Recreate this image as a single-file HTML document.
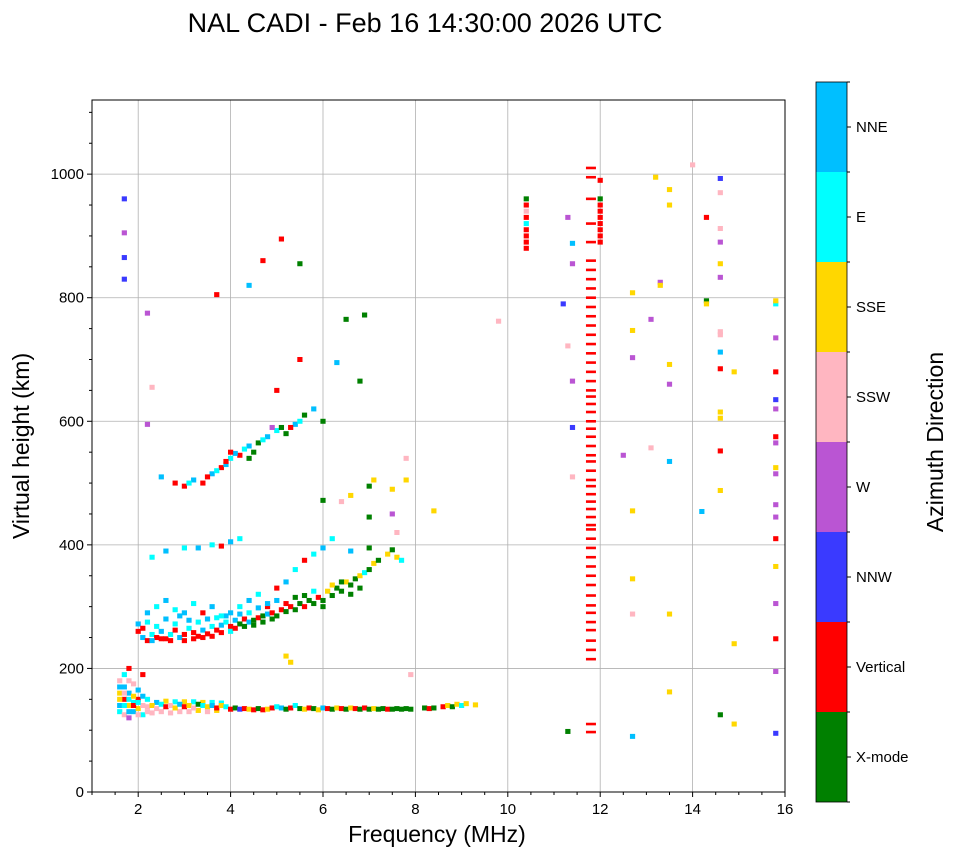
<!DOCTYPE html>
<html><head><meta charset="utf-8">
<style>
body{margin:0;background:#fff;font-family:"Liberation Sans","DejaVu Sans",sans-serif;}
svg text{font-family:"Liberation Sans","DejaVu Sans",sans-serif;}
</style></head>
<body>
<svg id="chart" width="958" height="857" viewBox="0 0 958 857" xmlns="http://www.w3.org/2000/svg">
<text x="425" y="32" font-size="27" text-anchor="middle">NAL CADI - Feb 16 14:30:00 2026 UTC</text>
<g id="grid"></g>
<g id="marks"></g>
<rect x="92" y="100" width="693" height="692" fill="none" stroke="#000" stroke-width="1"/>
<g id="axes"></g>
<text x="437" y="842" font-size="23" text-anchor="middle">Frequency (MHz)</text>
<text transform="translate(29,446) rotate(-90)" font-size="23" text-anchor="middle">Virtual height (km)</text>
<g id="cbar"></g>
<text transform="translate(943,442) rotate(-90)" font-size="23" text-anchor="middle">Azimuth Direction</text>
</svg>
<script>
const xTicks=[2,4,6,8,10,12,14,16];
const yTicks=[0,200,400,600,800,1000];
const directions=["X-mode","Vertical","NNW","W","SSW","SSE","E","NNE"];
const dirColors=["#008000","#ff0000","#3a3aff","#ba55d3","#ffb6c1","#ffd700","#00ffff","#00bfff"];
// [freq MHz, height km, direction index]
const echoes=[
[1.6,140,7],[1.6,160,5],[1.6,180,4],[1.6,130,6],[1.7,150,1],[1.7,170,7],[1.7,125,4],[1.7,190,6],[1.8,140,5],[1.8,160,7],[1.8,200,1],[1.8,120,3],[1.9,145,6],[1.9,175,4],[1.9,130,7],[2.0,150,1],[2.0,135,5],[2.0,165,7],[2.1,140,4],[2.1,190,1],[2.1,125,6],
[1.6,150,5],[1.6,170,7],[1.7,140,6],[1.7,160,4],[1.8,130,7],[1.8,150,6],[1.8,180,4],[1.9,155,5],[1.9,140,1],[2.0,125,4],[2.0,145,6],[2.1,155,7],[2.2,130,4],[2.2,150,6],[2.3,128,4],[2.4,145,7],[2.5,130,4],[2.6,147,5],[2.7,128,4],[2.8,146,6],[2.9,130,4],[3.0,146,5],[3.1,130,4],[3.2,146,6],[3.3,132,5],[3.4,145,5],[3.5,130,4],[3.6,145,6],[3.7,132,5],[3.8,144,6],
[2.2,138,4],[2.3,140,5],[2.4,135,4],[2.5,142,6],[2.6,138,1],[2.7,140,4],[2.8,136,5],[2.9,142,7],[3.0,138,1],[3.1,140,5],[3.2,136,4],[3.3,142,0],[3.4,140,6],[3.5,138,5],[3.6,140,7],[3.7,136,1],[3.8,140,5],[3.9,138,6],[4.0,134,1],[4.1,136,0],[4.2,134,2],[4.3,135,1],[4.4,134,5],[4.5,133,1],[4.6,135,0],[4.7,133,1],[4.8,134,5],[4.9,136,1],[5.0,138,6],[5.1,136,7],[5.2,134,0],[5.3,136,1],[5.4,140,6],[5.5,135,0],[5.6,134,5],[5.7,136,1],[5.8,135,0],[5.9,133,5],[6.0,136,7],[6.1,135,1],[6.2,134,0],[6.3,136,5],[6.4,135,1],[6.5,134,0],[6.6,136,5],[6.7,135,1],[6.8,134,0],[6.9,136,1],[7.0,134,0],[7.1,135,5],[7.2,134,0],[7.3,135,0],[7.4,134,1],[7.5,134,0],[7.6,135,0],[7.7,134,0],[7.8,135,0],[7.9,134,0],[8.2,136,0],[8.3,135,1],[8.4,136,0],[8.6,138,1],[8.7,140,5],[8.8,138,0],[8.9,142,5],[9.0,140,6],[9.1,143,5],[9.3,141,5],
[2.0,260,1],[2.1,250,7],[2.2,245,1],[2.3,255,6],[2.4,250,1],[2.5,260,7],[2.6,248,1],[2.7,255,6],[2.8,262,1],[2.9,250,7],[3.0,255,1],[3.1,265,6],[3.2,258,1],[3.3,252,1],[3.4,262,7],[3.5,256,1],[3.6,268,6],[3.7,262,1],[3.8,270,7],[3.9,275,6],[4.0,268,1],[4.1,278,7],[4.2,272,0],[4.3,280,1],[4.4,275,7],[4.5,278,0],[4.6,282,1],[4.7,285,0],[4.8,288,7],[4.9,290,1],[5.0,285,0],[5.1,295,1],[5.2,292,0],[5.3,300,1],[5.4,295,0],[5.5,305,0],[5.6,300,1],[5.7,310,0],[5.8,305,0],[5.9,315,1],[6.0,310,0],[6.1,325,5],[6.2,318,0],[6.3,330,0],[6.4,325,0],[6.5,340,5],[6.6,335,0],[6.7,345,0],[6.8,350,5],[6.9,355,6],[7.0,360,0],[7.1,370,5],[7.2,375,0],[7.4,385,5],[7.5,392,0],[7.6,380,5],[7.7,375,6],
[2.0,272,7],[2.1,265,1],[2.2,275,6],[2.3,245,7],[2.4,268,6],[2.5,248,1],[2.6,280,7],[2.7,245,1],[2.8,272,6],[2.9,285,7],[3.0,245,1],[3.1,278,7],[3.2,248,1],[3.3,275,6],[3.4,250,1],[3.5,280,7],[3.6,252,1],[3.7,282,6],[3.8,258,1],[3.9,285,7],[4.0,260,6],[4.1,265,1],[4.2,288,7],[4.3,268,0],[4.4,290,6],[4.5,270,0],[4.6,298,7],[4.7,275,0],[4.8,300,1],[4.9,280,0],[5.0,310,7],[5.2,305,1],[5.4,315,0],[5.6,318,0],[5.8,325,6],[6.0,300,0],[6.2,335,5],[6.4,340,0],[6.6,320,0],[6.8,330,0],
[2.2,290,7],[2.4,300,6],[2.6,310,7],[2.8,295,6],[3.0,290,7],[3.2,305,6],[3.4,290,1],[3.6,300,7],[3.8,285,6],[4.0,290,7],[4.2,300,6],[4.4,310,7],[4.6,320,6],[4.8,305,7],[5.0,330,1],[5.2,340,7],[5.4,360,6],[5.6,375,1],[5.8,385,6],[6.0,395,7],[6.2,410,6],[6.6,390,7],[7.0,395,0],
[2.3,380,6],[2.6,390,7],[3.0,395,6],[3.3,395,7],[3.6,400,6],[3.8,398,1],[4.0,405,7],[4.2,410,6],[2.5,510,7],[2.8,500,1],[3.0,495,1],[3.2,505,7],[3.4,500,1],[3.6,515,7],[3.8,525,1],[4.0,540,6],[4.2,545,1],[4.4,560,7],[4.6,565,0],[4.8,575,7],[5.0,585,6],[5.2,580,0],[5.4,595,7],[5.6,610,0],[5.8,620,7],[6.0,600,0],[3.7,520,6],[3.9,530,7],[4.3,555,6],[4.5,550,0],
[3.5,510,1],[3.9,535,1],[4.1,548,7],[4.7,570,6],[5.1,590,0],[5.5,600,6],[3.1,500,6],[4.0,550,1],[4.4,540,0],
[4.9,590,3],[5.3,590,1],[5.0,650,1],[5.5,700,1],[6.5,765,0],[6.9,772,0],[6.3,695,7],[6.8,665,0],[4.7,860,1],[5.1,895,1],[5.5,855,0],[3.7,805,1],[4.4,820,7],[2.2,775,3],[2.2,595,3],[1.7,960,2],[1.7,905,3],[1.7,865,2],[1.7,830,2],[2.3,655,4],
[5.2,220,5],[5.3,210,5],[6.6,480,5],[7.0,495,0],[7.1,505,5],[7.5,490,5],[7.8,505,5],[7.8,540,4],[7.5,450,3],[8.4,455,5],[7.0,445,0],[6.4,470,4],[6.0,472,0],[7.6,420,4],[7.9,190,4],[9.8,762,4],[11.3,930,3],[11.4,888,7],[11.4,855,3],[11.2,790,2],[11.3,722,4],[11.4,665,3],[11.4,590,2],[11.4,510,4],[11.3,98,0],
[12.7,808,5],[12.7,747,5],[13.1,765,3],[12.7,703,3],[13.3,825,3],[13.3,820,5],[13.5,975,5],[13.5,950,5],[13.2,995,5],[13.5,692,5],[13.5,660,3],[12.5,545,3],[13.1,557,4],[13.5,535,7],[12.7,455,5],[12.7,345,5],[12.7,288,4],[13.5,288,5],[13.5,162,5],[12.7,90,7],
[14.0,1015,4],[14.6,993,2],[14.3,930,1],[14.6,970,4],[14.6,912,4],[14.6,890,3],[14.6,855,5],[14.6,833,3],[14.3,795,0],[14.3,790,5],[14.6,745,4],[14.6,740,4],[14.6,712,7],[14.6,685,1],[14.9,680,5],[14.6,615,5],[14.6,605,5],[14.6,552,1],[14.6,488,5],[14.2,454,7],[14.9,240,5],[14.6,125,0],[14.9,110,5],
[15.8,790,6],[15.8,795,5],[15.8,735,3],[15.8,680,1],[15.8,635,2],[15.8,620,3],[15.8,575,1],[15.8,565,3],[15.8,525,5],[15.8,515,3],[15.8,465,3],[15.8,445,3],[15.8,410,1],[15.8,365,5],[15.8,305,3],[15.8,248,1],[15.8,195,3],[15.8,95,2],
[10.4,960,0],[10.4,950,1],[10.4,940,4],[10.4,930,1],[10.4,920,6],[10.4,910,1],[10.4,900,1],[10.4,890,1],[10.4,880,1],
[12.0,990,1],[12.0,960,0],[12.0,950,1],[12.0,940,1],[12.0,930,1],[12.0,920,1],[12.0,910,1],[12.0,900,1],[12.0,890,1]
];
// Red vertical-incidence dash column at 11.8 MHz
const columnFreq=11.8;
const columnHeights=[1010,995,960,920,890,860,845,830,815,800,785,770,755,740,725,710,695,680,665,650,640,628,615,600,588,575,560,545,535,520,505,495,482,470,458,445,432,425,410,395,380,365,350,335,318,302,290,275,262,245,230,215,110,97];

const NS="http://www.w3.org/2000/svg";
const X0=92,X1=785,Y0=792,Y1=100;
const xs=f=>X0+(f-1)/(16-1)*(X1-X0);
const ys=h=>Y0-h/1120*(Y0-Y1);
function mk(tag,attrs,parent){const e=document.createElementNS(NS,tag);for(const k in attrs)e.setAttribute(k,attrs[k]);parent.appendChild(e);return e;}
const grid=document.getElementById('grid'),axes=document.getElementById('axes'),marks=document.getElementById('marks'),cbar=document.getElementById('cbar');
xTicks.forEach(t=>{
 const gl=mk('line',{x1:xs(t),x2:xs(t),y1:Y1,y2:Y0,stroke:'#b0b0b0','stroke-width':0.8},grid);
 
 mk('line',{x1:xs(t),x2:xs(t),y1:Y0,y2:Y0+5,stroke:'#000'},axes);
 const tx=mk('text',{x:xs(t),y:Y0+22,'font-size':15,'text-anchor':'middle'},axes);tx.textContent=t;
 
});
for(let t=1;t<16;t+=0.5){if(xTicks.includes(t))continue;mk('line',{x1:xs(t),x2:xs(t),y1:Y0,y2:Y0+3,stroke:'#000'},axes);}
yTicks.forEach(t=>{
 const gl=mk('line',{x1:X0,x2:X1,y1:ys(t),y2:ys(t),stroke:'#b0b0b0','stroke-width':0.8},grid);
 
 mk('line',{x1:X0-5,x2:X0,y1:ys(t),y2:ys(t),stroke:'#000'},axes);
 const tx=mk('text',{x:X0-8,y:ys(t)+5,'font-size':15,'text-anchor':'end'},axes);tx.textContent=t;
 
});
for(let t=50;t<1120;t+=50){if(t%200===0)continue;mk('line',{x1:X0-3,x2:X0,y1:ys(t),y2:ys(t),stroke:'#000'},axes);}
echoes.forEach(p=>{
 const r=mk('rect',{x:xs(p[0])-2.6,y:ys(p[1])-2.5,width:5.2,height:5,fill:dirColors[p[2]]},marks);
 
});
columnHeights.forEach(h=>{
 const r=mk('rect',{x:xs(columnFreq)-5,y:ys(h)-1.3,width:10,height:2.6,fill:dirColors[1]},marks);
 
});
const segH=90,cbTop=82,cbX=816,cbW=31;
directions.forEach((d,i)=>{
 const y=cbTop+(7-i)*segH;
 const r=mk('rect',{x:cbX,y:y,width:cbW,height:segH,fill:dirColors[i]},cbar);
 
 mk('line',{x1:cbX+cbW,x2:cbX+cbW+4,y1:y+segH/2,y2:y+segH/2,stroke:'#000'},cbar);
 const tx=mk('text',{x:cbX+cbW+9,y:y+segH/2+5,'font-size':15},cbar);tx.textContent=d;
 
});
for(let i=0;i<=8;i++)mk('line',{x1:cbX+cbW,x2:cbX+cbW+3,y1:cbTop+i*segH,y2:cbTop+i*segH,stroke:'#000'},cbar);
mk('rect',{x:cbX,y:cbTop,width:cbW,height:segH*8,fill:'none',stroke:'#000','stroke-width':0.8},cbar);
</script>
</body></html>
